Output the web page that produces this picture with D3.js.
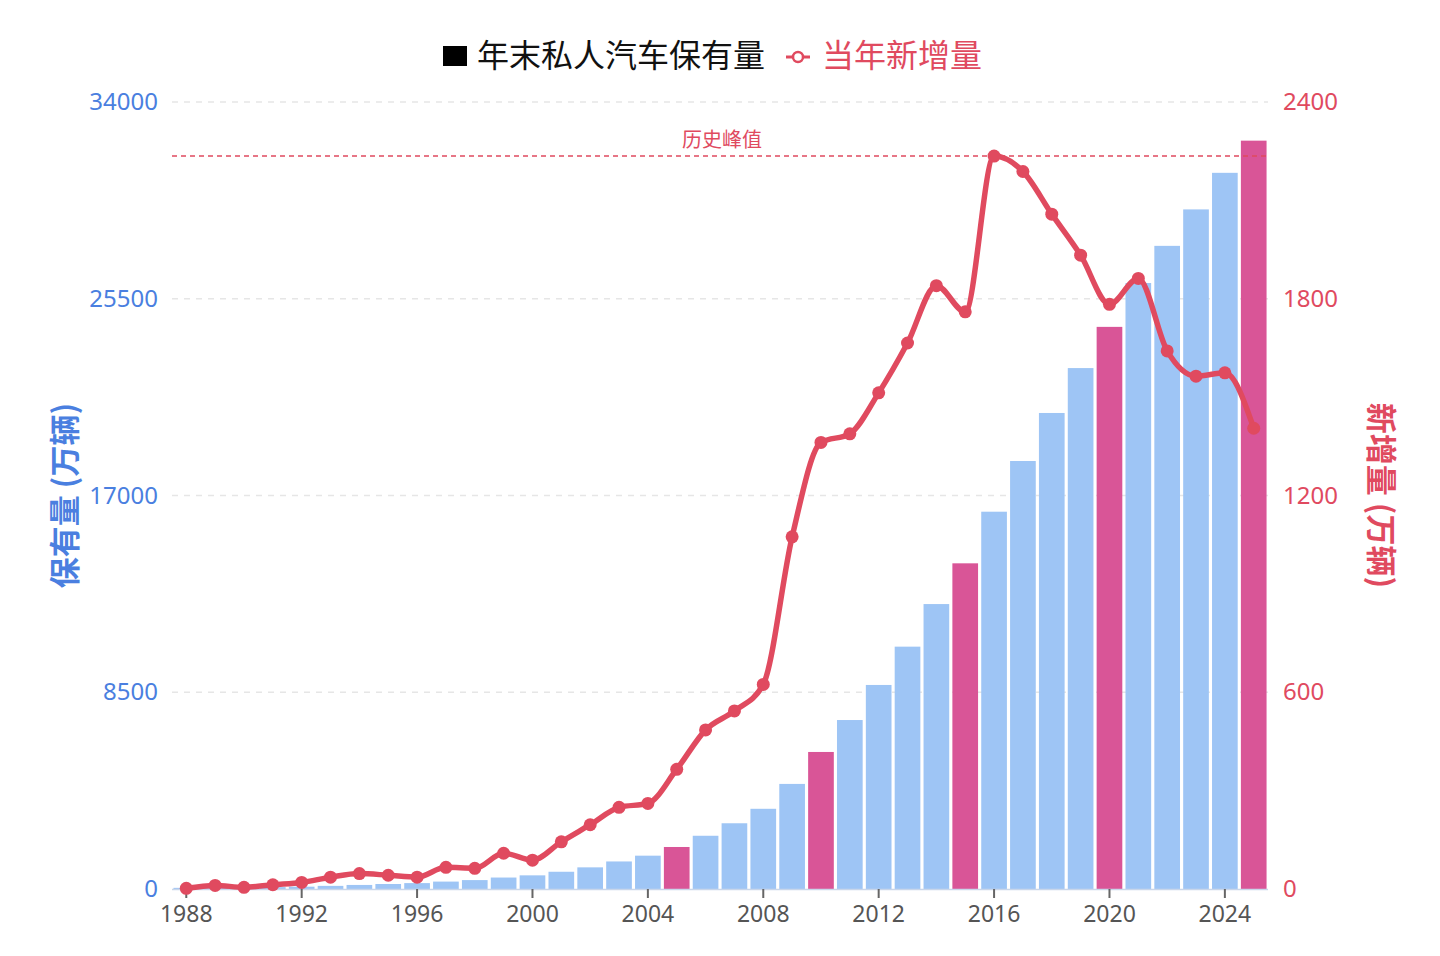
<!DOCTYPE html>
<html>
<head>
<meta charset="utf-8">
<script src="https://cdn.jsdelivr.net/npm/d3@7"></script>
<style>
  body { margin: 0; background: #fff; }
  svg { display: block; font-family: "Noto Sans CJK SC", "Noto Sans", sans-serif; }
  .num { font-family: "Noto Sans", "Noto Sans CJK SC", sans-serif; }
</style>
</head>
<body>
<svg id="chart" width="1440" height="956"></svg>
<script>
// years 1988 - 2025
const years = d3.range(1988, 2026);
// 年末私人汽车保有量 (万辆)
const stock = [50, 60, 65, 80, 100, 135, 175, 216, 255, 320, 385, 495, 590, 745, 935, 1190, 1440,
  1815, 2300, 2840, 3465, 4540, 5920, 7300, 8815, 10470, 12310, 14070, 16300, 18490, 20565,
  22505, 24285, 26180, 27785, 29360, 30940, 32330];
// 当年新增量 (万辆)
const added = [2, 11, 5, 13, 20, 36, 47, 42, 36, 66, 63, 109, 88, 144, 196, 249, 261,
  365, 485, 543, 624, 1074, 1362, 1388, 1513, 1665, 1840, 1760, 2235, 2188, 2058,
  1933, 1783, 1862, 1641, 1564, 1574, 1405];
const highlightYears = [2005, 2010, 2015, 2020, 2025];
const leftTicks = [0, 8500, 17000, 25500, 34000];
const rightTicks = [0, 600, 1200, 1800, 2400];
const xTickYears = [1988, 1992, 1996, 2000, 2004, 2008, 2012, 2016, 2020, 2024];
const peakLabel = "历史峰值";

const data = years.map((y, i) => ({year: y, stock: stock[i], added: added[i]}));

const mLeft = 172, mRight = 1268, mTop = 102, mBottom = 889;
const svg = d3.select("#chart");

const blue = "#4a7fe0", red = "#e04a5f", barBlue = "#9ec5f5", barPink = "#d95597";

const x = d3.scaleBand().domain(years).range([mLeft, mRight]).paddingInner(0.11).paddingOuter(0.05);
const yL = d3.scaleLinear().domain([0, 34000]).range([mBottom, mTop]);
const yR = d3.scaleLinear().domain([0, 2400]).range([mBottom, mTop]);

// grid
svg.append("g").selectAll("line")
  .data(leftTicks.filter(d => d > 0))
  .enter().append("line")
  .attr("x1", mLeft).attr("x2", mRight)
  .attr("y1", d => yL(d)).attr("y2", d => yL(d))
  .attr("stroke", "#e6e6e6").attr("stroke-width", 1.5).attr("stroke-dasharray", "6,6");

// bars
svg.append("g").selectAll("rect")
  .data(data)
  .enter().append("rect")
  .attr("x", d => x(d.year))
  .attr("width", x.bandwidth())
  .attr("y", d => yL(d.stock))
  .attr("height", d => mBottom - yL(d.stock))
  .attr("fill", d => highlightYears.includes(d.year) ? barPink : barBlue);

// baseline
svg.append("line")
  .attr("x1", mLeft).attr("x2", mRight).attr("y1", mBottom + 0.5).attr("y2", mBottom + 0.5)
  .attr("stroke", "#c9d6ea").attr("stroke-width", 1.5);

// left axis
const axL = svg.append("g").attr("transform", `translate(${mLeft - 14},0)`)
  .call(d3.axisLeft(yL).tickValues(leftTicks).tickSize(0).tickPadding(0).tickFormat(d3.format("d")));
axL.select(".domain").remove();
axL.selectAll("text").attr("class", "num").attr("fill", blue).attr("font-size", 24);

// right axis
const axR = svg.append("g").attr("transform", `translate(${mRight + 15},0)`)
  .call(d3.axisRight(yR).tickValues(rightTicks).tickSize(0).tickPadding(0).tickFormat(d3.format("d")));
axR.select(".domain").remove();
axR.selectAll("text").attr("class", "num").attr("fill", red).attr("font-size", 24);

// bottom axis
const axB = svg.append("g").attr("transform", `translate(0,${mBottom})`)
  .call(d3.axisBottom(x).tickValues(xTickYears).tickSize(9).tickPadding(8));
axB.select(".domain").remove();
axB.selectAll("line").attr("stroke", "#666").attr("stroke-width", 2);
axB.selectAll("text").attr("class", "num").attr("fill", "#555").attr("font-size", 23);

// peak reference line
const peak = d3.max(added);
svg.append("line")
  .attr("x1", mLeft).attr("x2", mRight)
  .attr("y1", yR(peak)).attr("y2", yR(peak))
  .attr("stroke", red).attr("stroke-width", 1.5).attr("stroke-dasharray", "5,4");
svg.append("text")
  .attr("x", (mLeft + mRight) / 2 + 2).attr("y", yR(peak) - 9)
  .attr("text-anchor", "middle").attr("fill", red).attr("font-size", 20)
  .text(peakLabel);

// line
const cx = d => x(d.year) + x.bandwidth() / 2;
const line = d3.line().x(cx).y(d => yR(d.added)).curve(d3.curveMonotoneX);
svg.append("path").datum(data)
  .attr("d", line).attr("fill", "none")
  .attr("stroke", red).attr("stroke-width", 5.5).attr("stroke-linejoin", "round");
svg.append("g").selectAll("circle")
  .data(data).enter().append("circle")
  .attr("cx", cx).attr("cy", d => yR(d.added)).attr("r", 6.5)
  .attr("fill", red);

// axis titles
svg.append("text")
  .attr("transform", `translate(76,${(mTop + mBottom) / 2}) rotate(-90)`)
  .attr("text-anchor", "middle").attr("fill", blue)
  .attr("font-size", 31).attr("font-weight", 600)
  .text("保有量 (万辆)");
svg.append("text")
  .attr("transform", `translate(1370,${(mTop + mBottom) / 2}) rotate(90)`)
  .attr("text-anchor", "middle").attr("fill", red)
  .attr("font-size", 31).attr("font-weight", 600)
  .text("新增量 (万辆)");

// legend
const lg = svg.append("g").attr("transform", "translate(0,55)");
lg.append("rect").attr("x", 443).attr("y", -9).attr("width", 24).attr("height", 20).attr("fill", "#000");
lg.append("text").attr("x", 477).attr("y", 12).attr("font-size", 32).attr("fill", "#111")
  .text("年末私人汽车保有量");
lg.append("line").attr("x1", 786).attr("x2", 810).attr("y1", 2).attr("y2", 2)
  .attr("stroke", red).attr("stroke-width", 3);
lg.append("circle").attr("cx", 798).attr("cy", 2).attr("r", 5)
  .attr("fill", "#fff").attr("stroke", red).attr("stroke-width", 2.5);
lg.append("text").attr("x", 822).attr("y", 12).attr("font-size", 32).attr("fill", red)
  .text("当年新增量");
</script>
</body>
</html>
